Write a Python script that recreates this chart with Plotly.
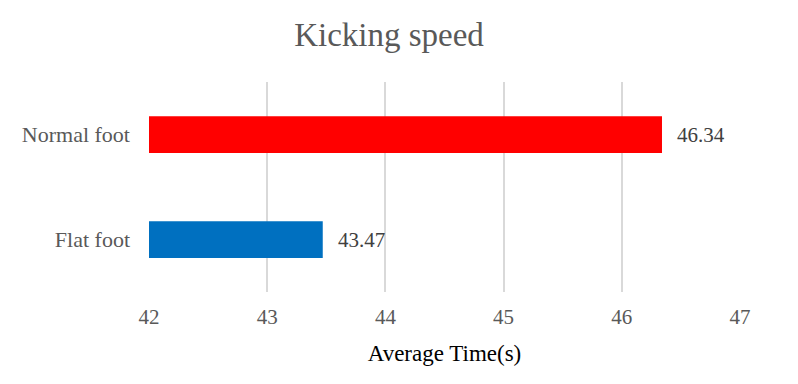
import plotly.graph_objects as go

categories = ["Flat foot", "Normal foot"]
values = [43.47, 46.34]
colors = ["#0070C0", "#FF0000"]
x_ticks = [42, 43, 44, 45, 46, 47]
x_min = 42

fig = go.Figure(go.Bar(
    y=categories, x=[v - x_min for v in values], base=x_min, orientation="h",
    marker=dict(color=colors, line=dict(width=0)),
    width=0.35,
    hoverinfo="skip",
))

for c, v in zip(categories, values):
    fig.add_annotation(x=v, y=c, text=f"{v:.2f}", showarrow=False,
                       xanchor="left", xshift=13,
                       font=dict(family="Liberation Serif", size=21, color="#404040"))

fig.update_layout(
    width=798, height=384,
    margin=dict(l=149, r=58, t=82, b=92),
    paper_bgcolor="white", plot_bgcolor="white",
    title=dict(text="Kicking speed", x=389 / 798, xanchor="center", xref="container",
               y=1 - 34 / 384, yanchor="middle",
               font=dict(family="Liberation Serif", size=33, color="#595959")),
    xaxis=dict(range=[42, 47], tickvals=x_ticks, showgrid=True, gridcolor="#D9D9D9", gridwidth=2,
               zeroline=False, showline=False, ticks="", automargin=False, ticklabelstandoff=10,
               tickfont=dict(family="Liberation Serif", size=21, color="#595959"),
               title=dict(text="Average Time(s)", font=dict(family="Liberation Serif", size=23, color="#000000"), standoff=16)),
    yaxis=dict(showgrid=False, zeroline=False, ticks="", ticklabelstandoff=18, automargin=False,
               tickfont=dict(family="Liberation Serif", size=22, color="#595959")),
    showlegend=False,
)
fig.write_html("out.html", post_script="document.body.style.margin='0px';",
               config={"displayModeBar": False})
